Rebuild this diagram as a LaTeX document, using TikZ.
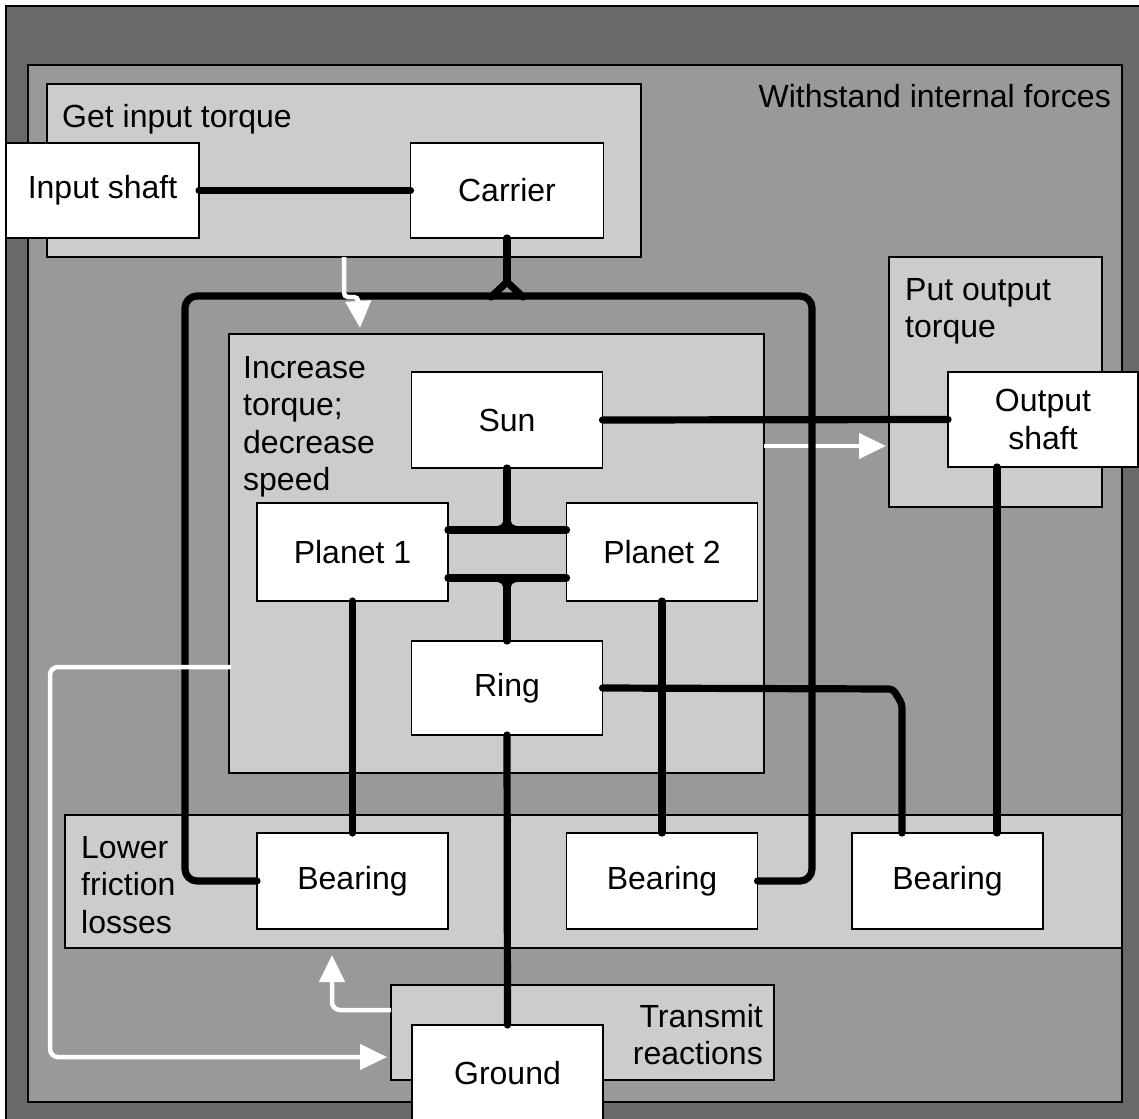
\documentclass[tikz,border=0pt]{standalone}
\usepackage{fontspec}
\setmainfont{Liberation Sans}
\usetikzlibrary{arrows.meta,fit}
\definecolor{outergray}{HTML}{696969}
\definecolor{midgray}{HTML}{999999}
\definecolor{panelgray}{HTML}{CCCCCC}
\tikzset{
  region/.style={draw=black, line width=1.6pt, inner sep=0pt, outer sep=0pt},
  part/.style={draw=black, fill=white, line width=1.6pt, inner sep=0pt, outer sep=0pt,
    align=center, minimum width=191pt, minimum height=96pt},
  areatext/.style={inner sep=0pt, anchor=base west},
  shaftline/.style={line width=7.2pt, line cap=round, line join=round},
  flow/.style={white, line width=4.5pt, rounded corners=8pt,
    -{Triangle[length=27pt,width=25pt]}}
}
\begin{document}
\begin{tikzpicture}[x=1pt, y=-1pt, font=\fontsize{32}{37.5}\selectfont]
\useasboundingbox (0,0) rectangle (1139,1118);

% nested function areas
\node[region, fill=outergray, fit={(6,6) (1160,1140)}] (plant) {};
\node[region, fill=midgray, fit={(28,65) (1122,1102)}] (withstand) {};
\node[region, fill=panelgray, fit={(47,84) (641,257)}] (getin) {};
\node[region, fill=panelgray, fit={(229,334) (764,773)}] (incr) {};
\node[region, fill=panelgray, fit={(889,257) (1102,507)}] (putout) {};
\node[region, fill=panelgray, fit={(65,815) (1122,948)}] (lower) {};
\node[region, fill=panelgray, fit={(391,985) (774,1080)}] (transmit) {};

% area titles
\node[areatext, anchor=base east] (t-withstand) at (1111,108) {Withstand internal forces};
\node[areatext] (t-getin) at (62,128) {Get input torque};
\node[areatext] (t-putout) at (905,300) {\begin{tabular}[t]{@{}l@{}}Put output\\torque\end{tabular}};
\node[areatext] (t-incr) at (243,378) {\begin{tabular}[t]{@{}l@{}}Increase\\torque;\\decrease\\speed\end{tabular}};
\node[areatext] (t-lower) at (81,858) {\begin{tabular}[t]{@{}l@{}}Lower\\friction\\losses\end{tabular}};
\node[areatext, anchor=base east] (t-transmit) at (763,1027) {\begin{tabular}[t]{@{}r@{}}Transmit\\reactions\end{tabular}};

% flow arrow from the speed stage to the output area (passes under the carrier frame)
\coordinate (a4s) at (764,446);
\coordinate (a4e) at (886,446);
\draw[flow] (a4s) -- (a4e);

% components
\node[part, minimum width=193pt, minimum height=95pt] (inshaft) at (102.5,190.5) {Input shaft};
\node[part, minimum width=193pt, minimum height=95pt] (carrier) at (507,190.5) {Carrier};
\node[part] (sun) at (507,420) {Sun};
\node[part, minimum height=98pt] (p1) at (352.5,552) {Planet 1};
\node[part, minimum height=98pt] (p2) at (662,552) {Planet 2};
\node[part, minimum height=94pt] (ring) at (507,688) {Ring};
\node[part, minimum width=190pt, minimum height=95pt] (outshaft) at (1043,419.5) {Output\\shaft};
\node[part] (b1) at (352.5,881) {Bearing};
\node[part] (b2) at (662,881) {Bearing};
\node[part] (b3) at (947.5,881) {Bearing};
\node[part] (ground) at (507.5,1073) {Ground};

% shaft connections
\draw[shaftline] (inshaft.east) -- (carrier.west);
\draw[shaftline] (sun.east) -- (outshaft.west);

% carrier frame carrying both planet bearings
\coordinate (cj) at (507,282);
\draw[shaftline] (carrier.south) -- (cj);
\draw[shaftline] (cj) -- (491,297);
\draw[shaftline] (cj) -- (523,297);
\draw[shaftline, rounded corners=12pt] (b1.west) -- (185,881) -- (185,296) -- (812,296) -- (812,881) -- (b2.east);

% planet meshes with sun and ring
\draw[shaftline] ([yshift=22pt]p1.east) -- ([yshift=22pt]p2.west);
\draw[shaftline] ([yshift=-26pt]p1.east) -- ([yshift=-26pt]p2.west);
\draw[shaftline] (sun.south) -- (507,522);
\draw[shaftline] (491,530) .. controls (503,530) and (507,527) .. (507,517);
\draw[shaftline] (523,530) .. controls (511,530) and (507,527) .. (507,517);
\draw[shaftline] (ring.north) -- (507,586);
\draw[shaftline] (491,578) .. controls (503,578) and (507,581) .. (507,591);
\draw[shaftline] (523,578) .. controls (511,578) and (507,581) .. (507,591);

% bearing supports
\draw[shaftline] (p1.south) -- (b1.north);
\draw[shaftline] (p2.south) -- (b2.north);
\draw[shaftline] ([xshift=-46pt]outshaft.south) -- ([xshift=-46pt]outshaft.south |- b3.north);
\draw[shaftline, rounded corners=4pt] (ring.east) -- (893,689) -- (902,704) -- (902,833);
\draw[shaftline] (ring.south) -- (ground.north);

% flow arrows between areas
\coordinate (a1s) at (344,257);
\draw[flow, rounded corners=4pt] (a1s) |- (358,297) -- (360,328);
\coordinate (a2s) at (231,667);
\draw[flow] (a2s) -- (50,667) -- (50,1057) -- (387,1057);
\coordinate (a3s) at (391,1010);
\draw[flow] (a3s) -- (332,1010) -- (332,955);
\end{tikzpicture}
\end{document}
